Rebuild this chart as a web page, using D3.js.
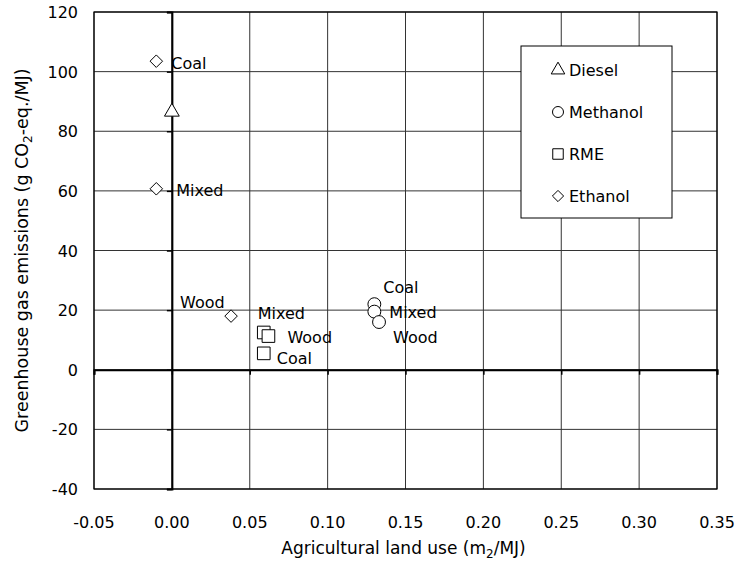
<!DOCTYPE html>
<html>
<head>
<meta charset="utf-8">
<script src="https://cdn.jsdelivr.net/npm/d3@7"></script>
<style>
  body { margin: 0; background: #fff; }
  text { font-family: "DejaVu Sans", sans-serif; fill: #000; }
</style>
</head>
<body>
<svg id="chart"></svg>
<script>
// fuel chains
const ethanolX = [-0.01, -0.01, 0.038];
const ethanolY = [103.5, 60.7, 18];
const ethanolLabels = ["Coal", "Mixed", "Wood"];

const dieselX = [0];
const dieselY = [86.5];

const methanolX = [0.13, 0.13, 0.133];
const methanolY = [22, 19.5, 16];
const methanolLabels = ["Coal", "Mixed", "Wood"];

const rmeX = [0.059, 0.062, 0.059];
const rmeY = [12.5, 11.3, 5.5];
const rmeLabels = ["Mixed", "Wood", "Coal"];

const xTicks = [-0.05, 0, 0.05, 0.10, 0.15, 0.20, 0.25, 0.30, 0.35];
const yTicks = [-40, -20, 0, 20, 40, 60, 80, 100, 120];
const legendNames = ["Diesel", "Methanol", "RME", "Ethanol"];

const margin = {top: 12, right: 20, bottom: 81, left: 94},
    svgWidth = 737,
    svgHeight = 570,
    width = svgWidth - margin.left - margin.right,
    height = svgHeight - margin.top - margin.bottom;

const chart = d3.select('#chart')
    .attr("width", svgWidth)
    .attr("height", svgHeight);

const g = chart.append("g")
    .attr("transform", `translate(${margin.left},${margin.top})`);

const xScale = d3.scaleLinear().domain([-0.05, 0.35]).range([0, width]);
const yScale = d3.scaleLinear().domain([-40, 120]).range([height, 0]);

// grid
g.append("g").selectAll("line")
    .data(xTicks)
    .enter().append("line")
    .attr("x1", d => xScale(d)).attr("x2", d => xScale(d))
    .attr("y1", 0).attr("y2", height)
    .attr("stroke", "#333").attr("stroke-width", 1);

g.append("g").selectAll("line")
    .data(yTicks)
    .enter().append("line")
    .attr("y1", d => yScale(d)).attr("y2", d => yScale(d))
    .attr("x1", 0).attr("x2", width)
    .attr("stroke", "#333").attr("stroke-width", 1);

g.append("rect")
    .attr("width", width).attr("height", height)
    .attr("fill", "none").attr("stroke", "#000").attr("stroke-width", 1.2);

// axes through zero
const xAxis = d3.axisBottom(xScale).tickValues(xTicks).tickSize(5).tickFormat("");
g.append("g")
    .attr("transform", "translate(0," + yScale(0) + ")")
    .call(xAxis)
    .call(s => s.select(".domain").attr("stroke-width", 2))
    .call(s => s.selectAll(".tick line").attr("stroke-width", 1.5));

const yAxis = d3.axisLeft(yScale).tickValues(yTicks).tickSize(5).tickFormat("");
g.append("g")
    .attr("transform", "translate(" + xScale(0) + ",0)")
    .call(yAxis)
    .call(s => s.select(".domain").attr("stroke-width", 2))
    .call(s => s.selectAll(".tick line").attr("stroke-width", 1.5));

// tick labels at the frame (plain hyphen for negatives)
g.append("g").selectAll("text")
    .data(xTicks)
    .enter().append("text")
    .attr("x", d => xScale(d))
    .attr("y", height + 39)
    .attr("text-anchor", "middle")
    .style("font-size", "16px")
    .text(d => d.toFixed(2));

g.append("g").selectAll("text")
    .data(yTicks)
    .enter().append("text")
    .attr("x", -16)
    .attr("y", d => yScale(d) + 6)
    .attr("text-anchor", "end")
    .style("font-size", "16px")
    .text(d => d);

// axis titles
const xt = chart.append("text")
    .attr("x", margin.left + xScale(0.15) - 2)
    .attr("y", 554)
    .attr("text-anchor", "middle")
    .style("font-size", "17px");
xt.append("tspan").text("Agricultural land use (m");
xt.append("tspan").attr("dy", 4).style("font-size", "12px").text("2");
xt.append("tspan").attr("dy", -4).text("/MJ)");

const yt = chart.append("text")
    .attr("transform", "translate(28," + (margin.top + yScale(40)) + ") rotate(-90)")
    .attr("text-anchor", "middle")
    .style("font-size", "17.5px");
yt.append("tspan").text("Greenhouse gas emissions (g CO");
yt.append("tspan").attr("dy", 4).style("font-size", "12px").text("2");
yt.append("tspan").attr("dy", -4).text("-eq./MJ)");

// marker symbols
const sym = {
    Diesel: d3.symbol().type(d3.symbolTriangle).size(95),
    Methanol: d3.symbol().type(d3.symbolCircle).size(130),
    RME: d3.symbol().type(d3.symbolSquare).size(160),
    Ethanol: d3.symbol().type(d3.symbolDiamond2).size(100)
};

function drawSeries(xs, ys, name) {
    g.append("g").selectAll("path")
        .data(xs.map((x, i) => ({x: x, y: ys[i]})))
        .enter().append("path")
        .attr("transform", d => `translate(${xScale(d.x)},${yScale(d.y)})`)
        .attr("d", sym[name]())
        .attr("fill", "#fff")
        .attr("stroke", "#000")
        .attr("stroke-width", 1);
}

drawSeries(dieselX, dieselY, "Diesel");
drawSeries(ethanolX, ethanolY, "Ethanol");
drawSeries(rmeX, rmeY, "RME");
drawSeries(methanolX, methanolY, "Methanol");

// point labels (offsets in px)
const ethanolOff = [[15, 8], [20, 7], [-51, -8]];
const methanolOff = [[9, -11], [15, 6], [14, 21]];
const rmeOff = [[-6, -13], [19, 7], [13, 11]];

function labelSeries(xs, ys, labels, off) {
    g.append("g").selectAll("text")
        .data(labels)
        .enter().append("text")
        .attr("x", (d, i) => xScale(xs[i]) + off[i][0])
        .attr("y", (d, i) => yScale(ys[i]) + off[i][1])
        .style("font-size", "16px")
        .text(d => d);
}

labelSeries(ethanolX, ethanolY, ethanolLabels, ethanolOff);
labelSeries(methanolX, methanolY, methanolLabels, methanolOff);
labelSeries(rmeX, rmeY, rmeLabels, rmeOff);

// legend
const legend = chart.append("g").attr("transform", "translate(521,46)");
legend.append("rect")
    .attr("width", 151).attr("height", 172)
    .attr("fill", "#fff").attr("stroke", "#000").attr("stroke-width", 1);

const legendSym = {
    Diesel: d3.symbol().type(d3.symbolTriangle).size(80),
    Methanol: d3.symbol().type(d3.symbolCircle).size(95),
    RME: d3.symbol().type(d3.symbolSquare).size(110),
    Ethanol: d3.symbol().type(d3.symbolDiamond2).size(80)
};

const item = legend.selectAll("g.item")
    .data(legendNames)
    .enter().append("g")
    .attr("transform", (d, i) => "translate(0," + (24 + i * 42) + ")");

item.append("path")
    .attr("transform", "translate(37,0)")
    .attr("d", d => legendSym[d]())
    .attr("fill", "#fff").attr("stroke", "#000");

item.append("text")
    .attr("x", 48).attr("y", 6)
    .style("font-size", "16px")
    .text(d => d);
</script>
</body>
</html>
